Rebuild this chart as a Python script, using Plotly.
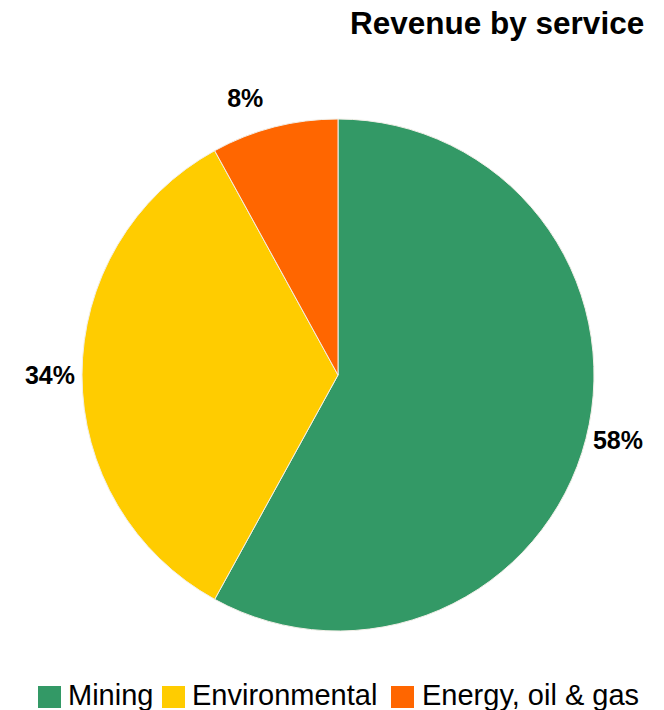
import plotly.graph_objects as go

# Revenue share by service line (percent)
services = ["Mining", "Environmental", "Energy, oil & gas"]
shares = [58, 34, 8]
colors = ["#339966", "#FFCC00", "#FF6600"]

W, H = 664, 710
FONT = "Liberation Sans, Arial, sans-serif"

# Pie geometry in pixels: centre and radius
cx, cy, r = 338, 375, 256

# The small top slice gets a short spacer line so its label sits a little higher,
# and leading blanks nudge it toward the slice's right edge
label_templates = [
    "<b>%{percent:.0%}</b>",
    "<b>%{percent:.0%}</b>",
    "<span style='font-size:25px'>&nbsp;&nbsp;<b>%{percent:.0%}</b></span><br> ",
]
label_sizes = [25, 25, 14]

fig = go.Figure(
    go.Pie(
        labels=services,
        values=shares,
        sort=False,
        direction="clockwise",
        rotation=0,
        marker=dict(colors=colors, line=dict(color="#f2efe8", width=1)),
        textposition="outside",
        texttemplate=label_templates,
        textfont=dict(family=FONT, size=label_sizes, color="#000000"),
        hoverinfo="label+percent",
        showlegend=False,
        domain=dict(
            x=[(cx - r) / W, (cx + r) / W],
            y=[(H - cy - r) / H, (H - cy + r) / H],
        ),
    )
)

annotations = [
    dict(
        text="<b>Revenue by service</b>",
        x=646 / W, y=1 - 23 / H,
        xref="paper", yref="paper",
        xanchor="right", yanchor="middle",
        showarrow=False,
        font=dict(family=FONT, size=31.5, color="#000000"),
    )
]

# Legend drawn along the bottom: coloured square followed by the label
legend_marker_x = [38, 162, 391]
legend_text_x = [66, 190, 420]
shapes = []
for name, col, mx, tx in zip(services, colors, legend_marker_x, legend_text_x):
    shapes.append(dict(
        type="rect", xref="paper", yref="paper",
        x0=mx / W, x1=(mx + 23) / W,
        y0=1 - 708 / H, y1=1 - 686 / H,
        fillcolor=col, line=dict(width=0),
    ))
    annotations.append(dict(
        text=name,
        x=tx / W, y=1 - 695 / H,
        xref="paper", yref="paper",
        xanchor="left", yanchor="middle",
        showarrow=False,
        font=dict(family=FONT, size=29, color="#000000"),
    ))

fig.update_layout(
    width=W, height=H,
    margin=dict(l=0, r=0, t=0, b=0),
    paper_bgcolor="#ffffff",
    plot_bgcolor="#ffffff",
    annotations=annotations,
    shapes=shapes,
)

fig.write_html("out.html")
